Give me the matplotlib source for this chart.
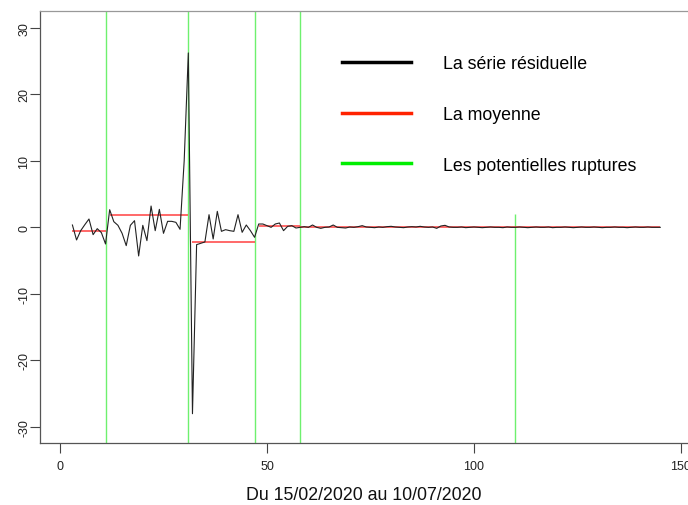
import matplotlib
matplotlib.use("Agg")
import matplotlib.pyplot as plt
from matplotlib.lines import Line2D

plt.rcParams['font.family'] = ['Liberation Sans', 'DejaVu Sans']

# ---- data ----
days = list(range(3, 146))
residuals = [
    0.35, -1.9, -0.5, 0.4, 1.25, -1.1, -0.2, -0.8, -2.5,          # 3-11
    2.65, 0.85, 0.3, -0.9, -2.75, 0.3, 1.0, -4.3, 0.3, -2.0,       # 12-21
    3.2, -0.5, 2.7, -0.9, 0.9, 0.9, 0.75, -0.3, 10.0, 26.2,        # 22-31
    -28.0, -2.6, -2.4, -2.2, 1.9, -1.75, 2.4, -0.6, -0.35, -0.5,   # 32-41
    -0.6, 1.9, -0.75, 0.35, -0.5, -1.5, 0.5, 0.5, 0.25, 0.0,       # 42-51
    0.5, 0.65, -0.5, 0.15, 0.25, -0.1, 0.0, 0.1, 0.0, 0.35,        # 52-61
    0.0, -0.15, 0.0, 0.05, 0.35, 0.0, -0.05, -0.1, 0.05, 0.0,      # 62-71
    0.1, 0.25, 0.05, 0.0, -0.05, 0.05, 0.0, 0.1, 0.15, 0.05,       # 72-81
    0.0, -0.05, 0.05, 0.1, 0.05, 0.15, 0.05, 0.0, 0.05, -0.15,     # 82-91
    0.2, 0.3, 0.05, 0.0, 0.0, 0.05, -0.05, 0.0, 0.05, 0.0,         # 92-101
    -0.05, 0.0, 0.05, 0.0, 0.0, -0.05, 0.05, 0.0, 0.0, 0.05,       # 102-111
    0.0, -0.05, 0.0, 0.05, 0.0, 0.0, 0.05, -0.05, 0.0, 0.0,        # 112-121
    0.05, 0.0, -0.05, 0.0, 0.05, 0.0, 0.0, 0.05, 0.0, -0.05,       # 122-131
    0.0, 0.0, 0.05, 0.0, 0.0, -0.05, 0.0, 0.05, 0.0, 0.0,          # 132-141
    0.05, 0.0, 0.0, 0.0,                                           # 142-145
]
mean_starts = [3, 12, 32, 48, 58]
mean_ends = [11, 31, 47, 58, 145]
mean_values = [-0.6, 1.9, -2.15, 0.25, 0.02]
ruptures = [11, 31, 47, 58, 110]
rupture_tops = [40, 40, 40, 40, 2]

legend_labels = ["La série résiduelle", "La moyenne", "Les potentielles ruptures"]
xlabel = "Du 15/02/2020 au 10/07/2020"
xticks = [0, 50, 100, 150]
yticks = [-30, -20, -10, 0, 10, 20, 30]

# ---- figure ----
W, H = 688, 506
fig = plt.figure(figsize=(W / 100, H / 100), dpi=100)
ax = fig.add_axes([40 / W, 1 - 444 / H, (688 - 40) / W, (444 - 12) / H])

ax.vlines(ruptures, -40, rupture_tops, colors='#6ef06e', linewidth=1.0, zorder=1)
ax.hlines(mean_values, mean_starts, mean_ends, colors='#ff4040', linewidth=1.1, zorder=2)
ax.plot(days, residuals, color='#222222', linewidth=0.8, zorder=3)

ax.set_xlim(-4.83, 151.7)
ax.set_ylim(-32.4, 32.5)
ax.set_xticks(xticks)
ax.set_yticks(yticks)
ax.set_xticklabels([str(t) for t in xticks], fontsize=9)
ax.set_yticklabels([str(t) for t in yticks], fontsize=9, rotation=90, va='center')
ax.tick_params(axis='both', direction='out', length=7, width=0.8, colors='#444444',
               labelcolor='#222222')
ax.tick_params(axis='x', pad=5)
ax.tick_params(axis='y', pad=0)
ax.spines['right'].set_visible(False)
for s in ['left', 'bottom']:
    ax.spines[s].set_color('#555555')
    ax.spines[s].set_linewidth(0.9)
ax.spines['top'].set_color('#999999')
ax.spines['top'].set_linewidth(0.9)

ax.set_xlabel(xlabel, fontsize=12.8, labelpad=10, color='#111111')

handles = [Line2D([], [], color='black', lw=2.5),
           Line2D([], [], color='#ff2200', lw=2.5),
           Line2D([], [], color='#00ee00', lw=2.5)]
fig.legend(handles, legend_labels, loc='upper left',
           bbox_to_anchor=(335 / W, 1 - 49 / H), bbox_transform=fig.transFigure,
           frameon=False, fontsize=12.8, handlelength=3.85, handletextpad=1.8,
           labelspacing=1.9, borderaxespad=0)

fig.savefig("out.png", dpi=100)
